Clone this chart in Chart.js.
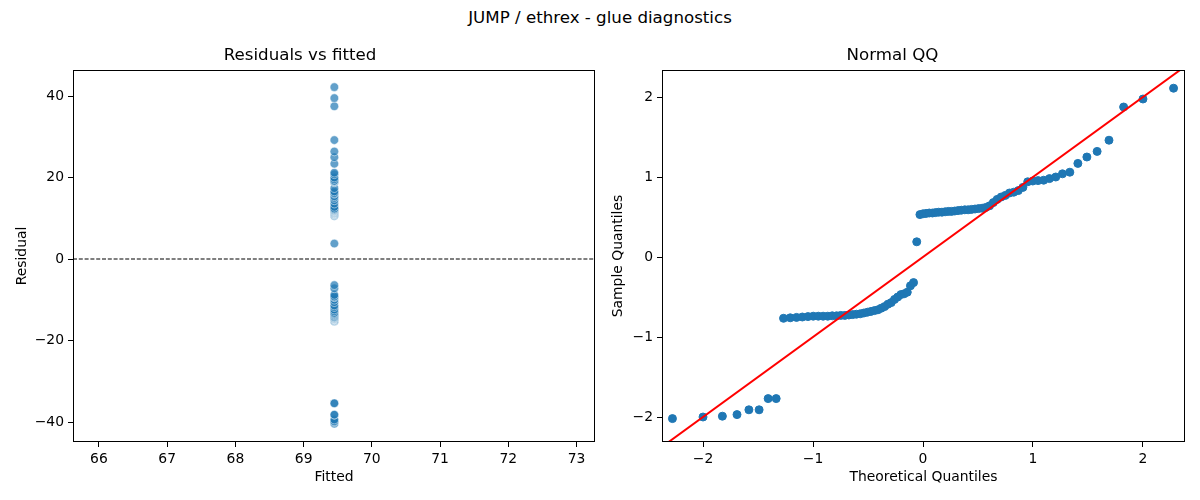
<!DOCTYPE html>
<html>
<head>
<meta charset="utf-8">
<script src="https://cdn.jsdelivr.net/npm/chart.js@4.4.1/dist/chart.umd.min.js"></script>
<style>
    html, body { margin: 0; padding: 0; background: #fff; }
    #page { position: relative; width: 1200px; height: 500px; overflow: hidden; }
    #suptitle {
        position: absolute; left: 0; top: 8px; width: 1200px;
        text-align: center; font-family: 'DejaVu Sans'; font-size: 16.67px;
        line-height: 20px; color: #000;
    }
    .panel { position: absolute; top: 0; width: 600px; height: 500px; }
</style>
</head>
<body>
<div id="page">
    <div id="suptitle">JUMP / ethrex - glue diagnostics</div>
    <div class="panel" style="left:0"><canvas id="residChart" width="600" height="500"></canvas></div>
    <div class="panel" style="left:600px"><canvas id="qqChart" width="600" height="500"></canvas></div>
</div>
<script>
    // Residuals (left panel), all at the same fitted value
    const fittedValue = 69.45;
    const residuals = [
        -40.4, -40.0, -39.8, -39.4, -38.2, -38.2, -35.4, -35.4,
        -15.3, -15.2, -15.1, -15.0, -14.9, -14.8, -14.8, -14.8, -14.8, -14.7,
        -14.7, -14.6, -14.6, -14.5, -14.4, -14.3, -14.2, -14.0, -13.8, -13.6,
        -13.4, -13.2, -12.8, -12.4, -11.8, -11.4, -10.6, -10.0, -9.4, -9.2,
        -8.8, -7.2, -6.4,
        3.8,
        10.6, 10.8, 10.9, 11.0, 11.0, 11.1, 11.2, 11.2, 11.3, 11.4, 11.4, 11.5,
        11.6, 11.7, 11.8, 11.8, 11.9, 12.0, 12.1, 12.2, 12.4, 12.8, 13.6, 14.4,
        15.0, 15.4, 16.0, 16.2, 16.6, 17.4, 18.8, 19.0, 19.1, 19.2, 19.6, 20.0,
        20.8, 21.2, 23.4, 25.0, 26.4, 29.2, 37.5, 39.5, 42.2
    ];

    // Normal QQ (right panel)
    const theoreticalQuantiles = [
        -2.278, -2.000, -1.824, -1.691, -1.583, -1.490, -1.408, -1.335, -1.268,
        -1.207, -1.150, -1.097, -1.046, -0.998, -0.952, -0.908, -0.866, -0.825,
        -0.786, -0.748, -0.711, -0.674, -0.639, -0.605, -0.571, -0.538, -0.505,
        -0.473, -0.441, -0.410, -0.380, -0.349, -0.319, -0.289, -0.259, -0.230,
        -0.201, -0.172, -0.143, -0.114, -0.086, -0.057, -0.028, 0.000,
        0.028, 0.057, 0.086, 0.114, 0.143, 0.172, 0.201, 0.230, 0.259, 0.289,
        0.319, 0.349, 0.380, 0.410, 0.441, 0.473, 0.505, 0.538, 0.571, 0.605,
        0.639, 0.674, 0.711, 0.748, 0.786, 0.825, 0.866, 0.908, 0.952, 0.998,
        1.046, 1.097, 1.150, 1.207, 1.268, 1.335, 1.408, 1.490, 1.583, 1.691,
        1.824, 2.000, 2.278
    ];
    const sampleQuantiles = [
        -2.02, -2.00, -1.99, -1.97, -1.91, -1.91, -1.77, -1.77,
        -0.766, -0.76, -0.755, -0.75, -0.745, -0.74, -0.74, -0.74, -0.74, -0.735,
        -0.735, -0.73, -0.73, -0.725, -0.72, -0.715, -0.71, -0.70, -0.69, -0.68,
        -0.67, -0.66, -0.64, -0.62, -0.59, -0.57, -0.53, -0.50, -0.47, -0.46,
        -0.44, -0.36, -0.32,
        0.19,
        0.53, 0.54, 0.545, 0.55, 0.55, 0.555, 0.56, 0.56, 0.565, 0.57, 0.57, 0.575,
        0.58, 0.585, 0.59, 0.59, 0.595, 0.60, 0.605, 0.61, 0.62, 0.64, 0.68, 0.72,
        0.75, 0.77, 0.80, 0.81, 0.83, 0.87, 0.94, 0.95, 0.955, 0.96, 0.98, 1.00,
        1.04, 1.06, 1.17, 1.25, 1.32, 1.46, 1.875, 1.975, 2.11
    ];
    const qqLineEnds = [-2.5, 2.5]; // 45 degree reference line

    // Axis limits and ticks
    const residXLim = [65.62, 73.27];
    const residYLim = [-44.9, 46.4];
    const residXTicks = [66, 67, 68, 69, 70, 71, 72, 73];
    const residYTicks = [-40, -20, 0, 20, 40];
    const qqXLim = [-2.373, 2.382];
    const qqYLim = [-2.3125, 2.3375];
    const qqXTicks = [-2, -1, 0, 1, 2];
    const qqYTicks = [-2, -1, 0, 1, 2];

    Chart.defaults.font.family = "'DejaVu Sans', sans-serif";
    Chart.defaults.color = '#000';

    // Draw the full box around the plot area like matplotlib spines
    const framePlugin = {
        id: 'frame',
        afterDatasetsDraw(chart) {
            const { ctx, chartArea: a } = chart;
            ctx.save();
            ctx.strokeStyle = '#000';
            ctx.lineWidth = 1;
            const l = Math.round(a.left) + 0.5, t = Math.round(a.top) + 0.5;
            const r = Math.round(a.right) - 0.5, b = Math.round(a.bottom) - 0.5;
            ctx.strokeRect(l, t, r - l, b - t);
            ctx.restore();
        }
    };

    function fmtTick(value) {
        return String(value).replace('-', '\u2212');
    }

    function makeAxis(lim, ticks, label, isX, titlePad, axisSize) {
        return {
            type: 'linear',
            min: lim[0],
            max: lim[1],
            afterBuildTicks: s => { s.ticks = ticks.map(v => ({ value: v })); },
            afterFit: s => {
                if (isX) s.height = axisSize; else s.width = axisSize;
                s.paddingLeft = s.paddingRight = s.paddingTop = s.paddingBottom = 0;
            },
            grid: { drawOnChartArea: false, drawTicks: true, tickLength: 5, tickColor: '#000', tickWidth: 1 },
            border: { display: false },
            ticks: { color: '#000', font: { size: 13.9 }, padding: 4, autoSkip: false, maxRotation: 0, callback: fmtTick },
            title: {
                display: true, text: label, color: '#000', font: { size: 13.9 },
                padding: isX ? { top: 0, bottom: titlePad } : { top: titlePad, bottom: 0 }
            }
        };
    }

    function makeTitle(text) {
        return {
            display: true, text: text, color: '#000',
            font: { size: 16.67, weight: 'normal' },
            padding: { top: 46, bottom: 4 }
        };
    }

    const residChart = new Chart(document.getElementById('residChart'), {
        type: 'scatter',
        data: {
            datasets: [
                {
                    // dashed zero line
                    data: residXLim.map(x => ({ x: x, y: 0 })),
                    showLine: true,
                    borderColor: '#000',
                    borderWidth: 1.1,
                    borderDash: [4, 1.8],
                    pointRadius: 0,
                    order: 0
                },
                {
                    data: residuals.map(r => ({ x: fittedValue, y: r })),
                    backgroundColor: 'rgba(31,119,180,0.7)',
                    borderColor: 'rgba(255,255,255,0.7)',
                    borderWidth: 0.7,
                    pointRadius: 4.3,
                    order: 1
                }
            ]
        },
        options: {
            responsive: false,
            animation: false,
            layout: { padding: { left: 0, right: 0, top: 0, bottom: 0 } },
            plugins: {
                legend: { display: false },
                tooltip: { enabled: false },
                title: makeTitle('Residuals vs fitted')
            },
            scales: {
                x: makeAxis(residXLim, residXTicks, 'Fitted', true, 14.7, 58),
                y: makeAxis(residYLim, residYTicks, 'Residual', false, 13.7, 73)
            }
        },
        plugins: [framePlugin]
    });

    const qqChart = new Chart(document.getElementById('qqChart'), {
        type: 'scatter',
        data: {
            datasets: [
                {
                    data: qqLineEnds.map(v => ({ x: v, y: v })),
                    showLine: true,
                    borderColor: '#ff0000',
                    borderWidth: 2,
                    pointRadius: 0,
                    order: 0
                },
                {
                    data: theoreticalQuantiles.map((q, i) => ({ x: q, y: sampleQuantiles[i] })),
                    backgroundColor: '#1f77b4',
                    borderColor: '#1f77b4',
                    borderWidth: 1,
                    pointRadius: 4,
                    order: 1
                }
            ]
        },
        options: {
            responsive: false,
            animation: false,
            layout: { padding: { left: 0, right: 15, top: 0, bottom: 0 } },
            plugins: {
                legend: { display: false },
                tooltip: { enabled: false },
                title: makeTitle('Normal QQ')
            },
            scales: {
                x: makeAxis(qqXLim, qqXTicks, 'Theoretical Quantiles', true, 14.7, 58),
                y: makeAxis(qqYLim, qqYTicks, 'Sample Quantiles', false, 9.7, 62)
            }
        },
        plugins: [framePlugin]
    });
</script>
</body>
</html>
